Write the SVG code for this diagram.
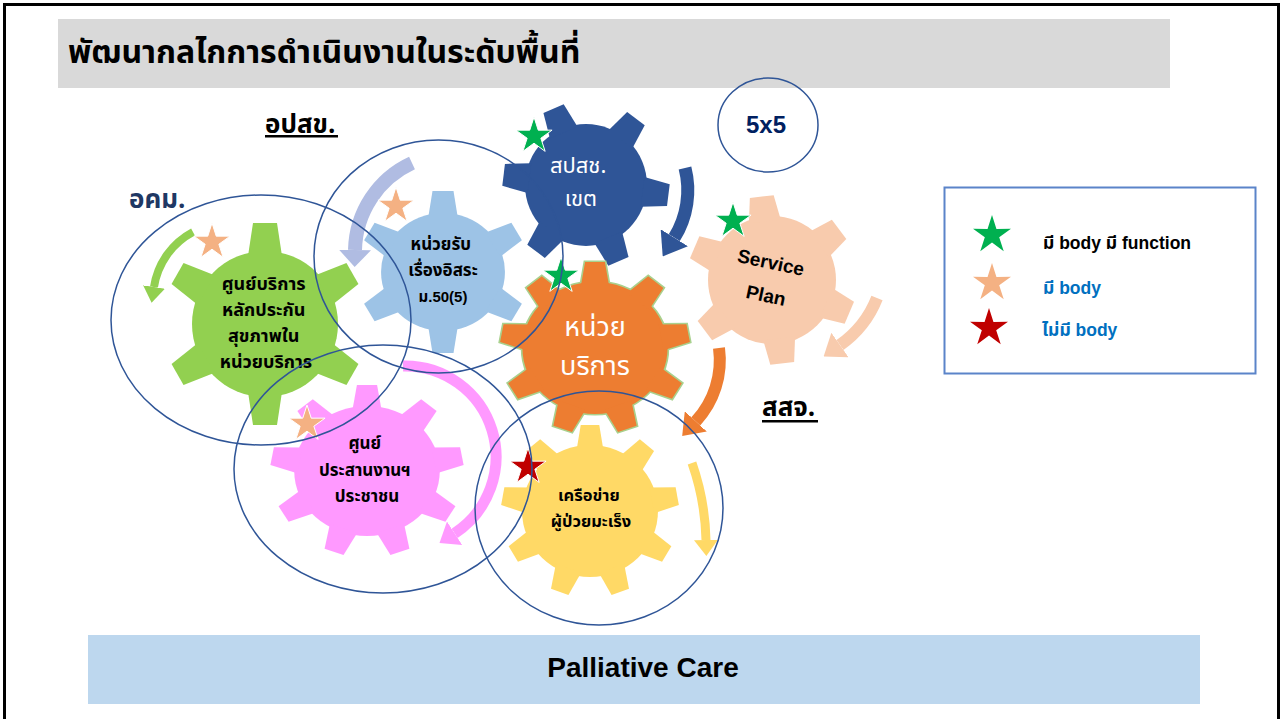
<svg xmlns="http://www.w3.org/2000/svg" xmlns:xlink="http://www.w3.org/1999/xlink" width="1284" height="719" viewBox="0 0 1284 719">
  <style>
    .th { font-family: "Noto Sans Thai", "Noto Sans", "DejaVu Sans", sans-serif; }
    .mix { font-family: "Liberation Sans", "Noto Sans Thai", "Noto Sans", sans-serif; }
    .lat { font-family: "Liberation Sans", Arial, sans-serif; }
    .b { font-weight: bold; }
    .ring { fill: none; stroke: #2f5597; stroke-width: 1.5; }
    .star-outline { stroke: #ffffff; stroke-width: 1; }
  </style>
  <defs>
    <!-- five-pointed star, outer radius 19 -->
    <polygon id="star" points="0,-19 4.23,-5.83 18.07,-5.87 6.85,2.23 11.17,15.37 0,7.2 -11.17,15.37 -6.85,2.23 -18.07,-5.87 -4.23,-5.83"/>
    <!-- gear teeth (pointing up from the gear centre) -->
    <polygon id="tooth-green" points="-17,-68 -12,-101 12,-101 17,-68"/>
    <polygon id="tooth-lblue" points="-14,-55 -10,-81 10,-81 14,-55"/>
    <polygon id="tooth-navy" points="-15,-57 -11,-83 11,-83 15,-57"/>
    <polygon id="tooth-peach" points="-16,-59 -12,-84 12,-84 16,-59"/>
    <polygon id="tooth-nine" points="-13,-61 -9,-86 9,-86 13,-61"/>
    <!-- arrowheads for the curved arrows -->
    <marker id="ah-green" markerUnits="userSpaceOnUse" markerWidth="16" markerHeight="22" viewBox="0 0 16 22" refX="0" refY="11" orient="auto"><polygon points="0,0 16,11 0,22" fill="#92d050"/></marker>
    <marker id="ah-lav" markerUnits="userSpaceOnUse" markerWidth="17" markerHeight="32" viewBox="0 0 17 32" refX="0" refY="16" orient="auto"><polygon points="0,0 17,16 0,32" fill="#b0bce2"/></marker>
    <marker id="ah-navy" markerUnits="userSpaceOnUse" markerWidth="22" markerHeight="32" viewBox="0 0 22 32" refX="0" refY="16" orient="auto"><polygon points="0,0 22,16 0,32" fill="#2f5597"/></marker>
    <marker id="ah-peach" markerUnits="userSpaceOnUse" markerWidth="20" markerHeight="30" viewBox="0 0 20 30" refX="0" refY="15" orient="auto"><polygon points="0,0 20,15 0,30" fill="#f8cbad"/></marker>
    <marker id="ah-orange" markerUnits="userSpaceOnUse" markerWidth="20" markerHeight="30" viewBox="0 0 20 30" refX="0" refY="15" orient="auto"><polygon points="0,0 20,15 0,30" fill="#ed7d31"/></marker>
    <marker id="ah-pink" markerUnits="userSpaceOnUse" markerWidth="18" markerHeight="28" viewBox="0 0 18 28" refX="0" refY="14" orient="auto"><polygon points="0,0 18,14 0,28" fill="#ff99ff"/></marker>
    <marker id="ah-yellow" markerUnits="userSpaceOnUse" markerWidth="16" markerHeight="24" viewBox="0 0 16 24" refX="0" refY="12" orient="auto"><polygon points="0,0 16,12 0,24" fill="#ffd966"/></marker>
  </defs>

  <!-- page frame -->
  <rect x="4.5" y="4.5" width="1274" height="740" fill="#ffffff" stroke="#000000" stroke-width="3"/>

  <!-- title bar -->
  <g id="title">
    <rect x="58" y="19" width="1112" height="69" fill="#d9d9d9"/>
    <text x="68" y="63" class="th b" font-size="32" fill="#000000">พัฒนากลไกการดำเนินงานในระดับพื้นที่</text>
  </g>

  <!-- curved arrows between the gears -->
  <g id="connectors" fill="none">
    <path d="M193,232 A75,75 0 0 0 154,287" stroke="#92d050" stroke-width="8" marker-end="url(#ah-green)"/>
    <path d="M412,163 A98,98 0 0 0 355,250" stroke="#b0bce2" stroke-width="14" marker-end="url(#ah-lav)"/>
    <path d="M685,168 A90,90 0 0 1 674.3,237.7" stroke="#2f5597" stroke-width="13" marker-end="url(#ah-navy)"/>
    <path d="M877,298 A104,104 0 0 1 840,345" stroke="#f8cbad" stroke-width="12" marker-end="url(#ah-peach)"/>
    <path d="M719,348 A90,90 0 0 1 695.8,421.4" stroke="#ed7d31" stroke-width="12" marker-end="url(#ah-orange)"/>
    <path d="M403,366 A91,91 0 0 1 454.6,533.3" stroke="#ff99ff" stroke-width="11" marker-end="url(#ah-pink)"/>
    <path d="M692,463 A250,250 0 0 1 706,540" stroke="#ffd966" stroke-width="9" marker-end="url(#ah-yellow)"/>
  </g>

  <!-- gear: health insurance service centre -->
  <g id="gear-green">
    <g transform="translate(265,324)" fill="#92d050">
      <circle r="73"/>
      <use xlink:href="#tooth-green"/>
      <use xlink:href="#tooth-green" transform="rotate(60)"/>
      <use xlink:href="#tooth-green" transform="rotate(120)"/>
      <use xlink:href="#tooth-green" transform="rotate(180)"/>
      <use xlink:href="#tooth-green" transform="rotate(240)"/>
      <use xlink:href="#tooth-green" transform="rotate(300)"/>
    </g>
    <text class="th b" font-size="18" fill="#000" text-anchor="middle">
      <tspan x="266" y="290">ศูนย์บริการ</tspan>
      <tspan x="266" y="316">หลักประกัน</tspan>
      <tspan x="266" y="342">สุขภาพใน</tspan>
      <tspan x="266" y="368">หน่วยบริการ</tspan>
    </text>
  </g>

  <!-- gear: independent complaint unit -->
  <g id="gear-lblue">
    <g transform="translate(443,272) scale(1.05,1)" fill="#9dc3e6">
      <circle r="59"/>
      <use xlink:href="#tooth-lblue"/>
      <use xlink:href="#tooth-lblue" transform="rotate(60)"/>
      <use xlink:href="#tooth-lblue" transform="rotate(120)"/>
      <use xlink:href="#tooth-lblue" transform="rotate(180)"/>
      <use xlink:href="#tooth-lblue" transform="rotate(240)"/>
      <use xlink:href="#tooth-lblue" transform="rotate(300)"/>
    </g>
    <text class="th b" font-size="17" fill="#000" text-anchor="middle">
      <tspan x="443" y="250">หน่วยรับ</tspan>
      <tspan x="443" y="276">เรื่องอิสระ</tspan>
    </text>
    <text x="443" y="302" class="mix b" font-size="15" fill="#000" text-anchor="middle">ม.50(5)</text>
  </g>

  <!-- gear: regional NHSO -->
  <g id="gear-navy">
    <g transform="translate(586,185)" fill="#2f5597">
      <circle r="61"/>
      <use xlink:href="#tooth-navy" transform="rotate(37)"/>
      <use xlink:href="#tooth-navy" transform="rotate(97)"/>
      <use xlink:href="#tooth-navy" transform="rotate(157)"/>
      <use xlink:href="#tooth-navy" transform="rotate(217)"/>
      <use xlink:href="#tooth-navy" transform="rotate(277)"/>
      <use xlink:href="#tooth-navy" transform="rotate(337)"/>
    </g>
    <text class="th" font-size="22" fill="#ffffff" text-anchor="middle">
      <tspan x="581" y="173">สปสช.</tspan>
      <tspan x="581" y="206">เขต</tspan>
    </text>
  </g>

  <!-- gear: service plan -->
  <g id="gear-peach">
    <g transform="translate(772,280)" fill="#f8cbad">
      <circle r="64"/>
      <use xlink:href="#tooth-peach" transform="rotate(-7)"/>
      <use xlink:href="#tooth-peach" transform="rotate(53)"/>
      <use xlink:href="#tooth-peach" transform="rotate(113)"/>
      <use xlink:href="#tooth-peach" transform="rotate(173)"/>
      <use xlink:href="#tooth-peach" transform="rotate(233)"/>
      <use xlink:href="#tooth-peach" transform="rotate(293)"/>
    </g>
    <g class="lat b" font-size="19" fill="#000" text-anchor="middle">
      <text x="771" y="269" transform="rotate(12 771 262)">Service</text>
      <text x="766" y="302" transform="rotate(12 766 295)">Plan</text>
    </g>
  </g>

  <!-- gear: service unit (centre) -->
  <g id="gear-orange">
    <g id="orange-body" transform="translate(595,348) scale(1.1,1)">
      <circle r="66"/>
      <use xlink:href="#tooth-nine"/>
      <use xlink:href="#tooth-nine" transform="rotate(40)"/>
      <use xlink:href="#tooth-nine" transform="rotate(80)"/>
      <use xlink:href="#tooth-nine" transform="rotate(120)"/>
      <use xlink:href="#tooth-nine" transform="rotate(160)"/>
      <use xlink:href="#tooth-nine" transform="rotate(200)"/>
      <use xlink:href="#tooth-nine" transform="rotate(240)"/>
      <use xlink:href="#tooth-nine" transform="rotate(280)"/>
      <use xlink:href="#tooth-nine" transform="rotate(320)"/>
    </g>
    <use xlink:href="#orange-body" fill="#a9d18e" stroke="#a9d18e" stroke-width="3"/>
    <use xlink:href="#orange-body" fill="#ed7d31"/>
    <text x="595" y="336" class="th" font-size="27" fill="#ffffff" text-anchor="middle">หน่วย</text>
    <text x="595" y="375" class="th" font-size="27" fill="#ffffff" text-anchor="middle">บริการ</text>
  </g>

  <!-- gear: public coordination centre -->
  <g id="gear-pink">
    <g transform="translate(367,471) scale(1.12,1)" fill="#ff99ff">
      <circle r="65"/>
      <use xlink:href="#tooth-nine"/>
      <use xlink:href="#tooth-nine" transform="rotate(40)"/>
      <use xlink:href="#tooth-nine" transform="rotate(80)"/>
      <use xlink:href="#tooth-nine" transform="rotate(120)"/>
      <use xlink:href="#tooth-nine" transform="rotate(160)"/>
      <use xlink:href="#tooth-nine" transform="rotate(200)"/>
      <use xlink:href="#tooth-nine" transform="rotate(240)"/>
      <use xlink:href="#tooth-nine" transform="rotate(280)"/>
      <use xlink:href="#tooth-nine" transform="rotate(320)"/>
    </g>
    <text class="th b" font-size="17" fill="#000" text-anchor="middle">
      <tspan x="367" y="449">ศูนย์</tspan>
      <tspan x="367" y="476">ประสานงานฯ</tspan>
      <tspan x="367" y="502">ประชาชน</tspan>
    </text>
  </g>

  <!-- gear: cancer patient network -->
  <g id="gear-yellow">
    <g transform="translate(590,511) scale(1.03,1)" fill="#ffd966">
      <circle r="66"/>
      <use xlink:href="#tooth-nine"/>
      <use xlink:href="#tooth-nine" transform="rotate(40)"/>
      <use xlink:href="#tooth-nine" transform="rotate(80)"/>
      <use xlink:href="#tooth-nine" transform="rotate(120)"/>
      <use xlink:href="#tooth-nine" transform="rotate(160)"/>
      <use xlink:href="#tooth-nine" transform="rotate(200)"/>
      <use xlink:href="#tooth-nine" transform="rotate(240)"/>
      <use xlink:href="#tooth-nine" transform="rotate(280)"/>
      <use xlink:href="#tooth-nine" transform="rotate(320)"/>
    </g>
    <text class="th b" font-size="16.5" fill="#000" text-anchor="middle">
      <tspan x="591" y="501">เครือข่าย</tspan>
      <tspan x="591" y="527">ผู้ป่วยมะเร็ง</tspan>
    </text>
  </g>

  <!-- status stars on the gears -->
  <g id="stars" class="star-outline">
    <use xlink:href="#star" x="534" y="136" fill="#00b050"/>
    <use xlink:href="#star" x="733" y="221" fill="#00b050"/>
    <use xlink:href="#star" x="561" y="276" fill="#00b050"/>
    <use xlink:href="#star" x="212" y="242" fill="#f4b183"/>
    <use xlink:href="#star" x="396" y="206" fill="#f4b183"/>
    <use xlink:href="#star" x="307" y="424" fill="#f4b183"/>
    <use xlink:href="#star" x="528" y="467" fill="#c00000"/>
  </g>

  <!-- level labels -->
  <g id="label-opsk">
    <text x="265" y="133" class="th b" font-size="26" fill="#000">อปสข.</text>
    <rect x="265" y="135" width="73" height="2.5" fill="#000"/>
  </g>
  <text id="label-okm" x="129" y="208" class="th b" font-size="26" fill="#1f3864">อคม.</text>
  <g id="label-ssj">
    <text x="762" y="416" class="th b" font-size="26" fill="#000">สสจ.</text>
    <rect x="762" y="420" width="56" height="2.5" fill="#000"/>
  </g>
  <g id="node-5x5">
    <ellipse cx="768" cy="125" rx="50" ry="47" class="ring"/>
    <text x="766" y="133" class="lat b" font-size="24" fill="#002060" text-anchor="middle">5x5</text>
  </g>

  <!-- scope rings -->
  <g id="rings">
    <ellipse cx="261" cy="320" rx="150" ry="125" class="ring"/>
    <ellipse cx="438.5" cy="256.5" rx="124.5" ry="116.5" class="ring"/>
    <ellipse cx="383" cy="469" rx="149" ry="124" class="ring"/>
    <ellipse cx="599" cy="508" rx="124" ry="117" class="ring"/>
  </g>

  <!-- legend -->
  <g id="legend">
    <rect x="944.5" y="187.5" width="311" height="186" fill="#ffffff" stroke="#5b84c9" stroke-width="2"/>
    <use xlink:href="#star" transform="translate(992,235) scale(1.05)" fill="#00b050"/>
    <use xlink:href="#star" transform="translate(992,283) scale(1.05)" fill="#f4b183"/>
    <use xlink:href="#star" transform="translate(989,328) scale(1.05)" fill="#c00000"/>
    <text x="1043" y="249" class="mix b" font-size="17.5" fill="#000">มี body มี function</text>
    <text x="1043" y="294" class="mix b" font-size="17.5" fill="#0070c0">มี body</text>
    <text x="1042" y="336" class="mix b" font-size="17.5" fill="#0070c0">ไม่มี body</text>
  </g>

  <!-- footer bar -->
  <g id="footer">
    <rect x="88" y="635" width="1112" height="69" fill="#bdd7ee"/>
    <text x="643" y="677" class="lat b" font-size="28" fill="#000" text-anchor="middle">Palliative Care</text>
  </g>
</svg>
